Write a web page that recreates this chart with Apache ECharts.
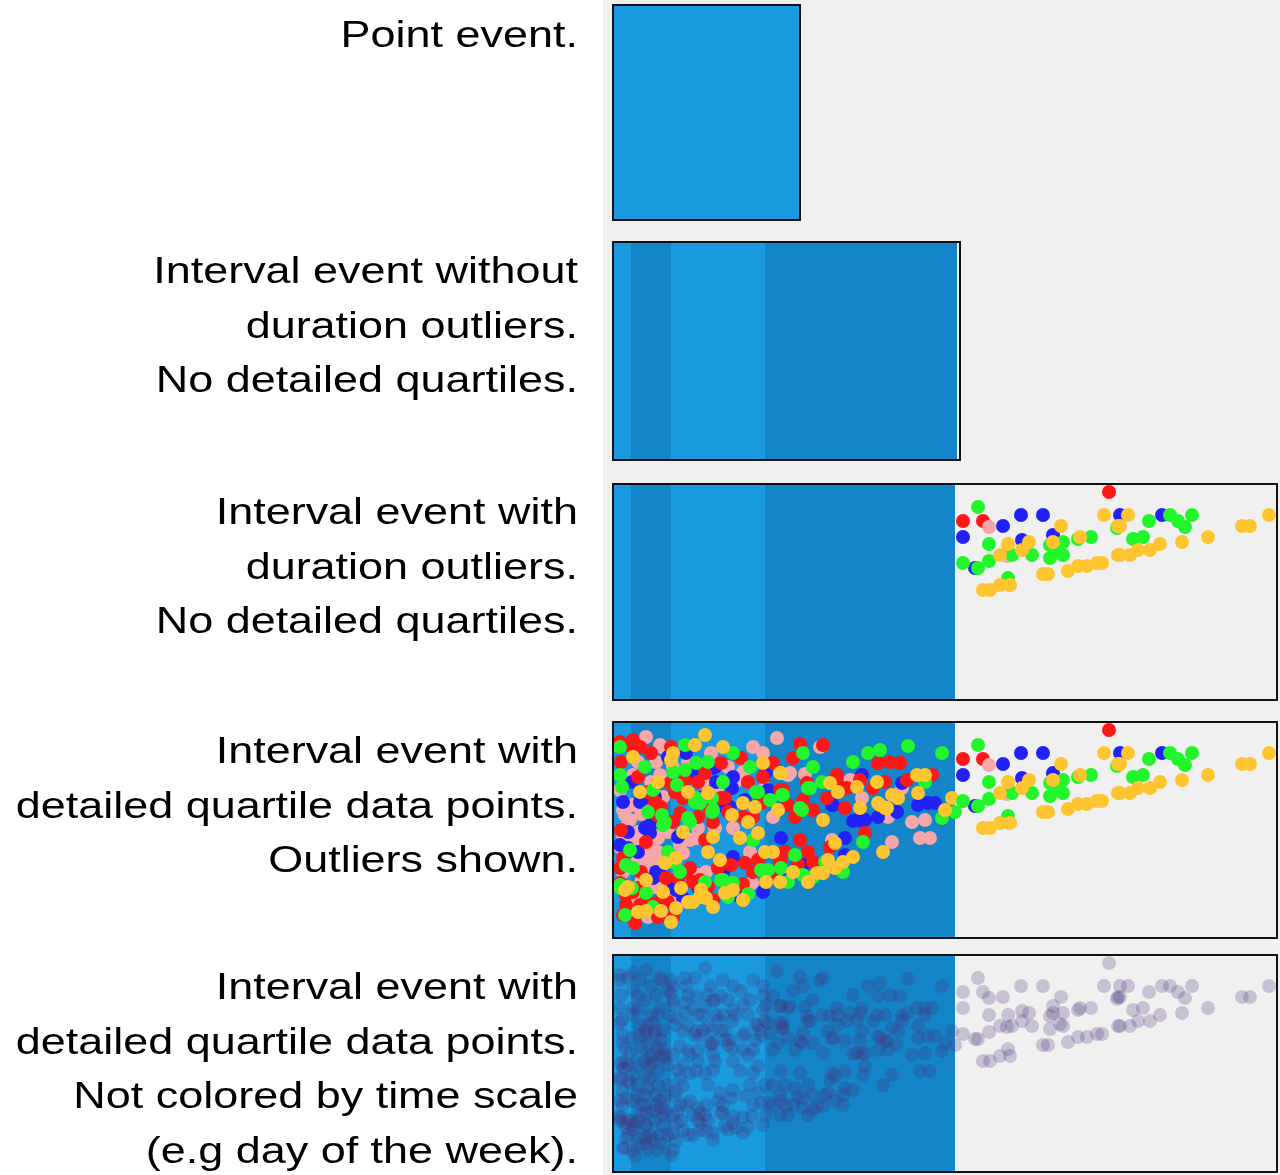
<!DOCTYPE html>
<html>
<head>
<meta charset="utf-8">
<script src="https://cdn.jsdelivr.net/npm/echarts@6/dist/echarts.min.js"></script>
<style>
  html, body { margin: 0; padding: 0; background: #fff; }
  #chart { width: 1280px; height: 1175px; }
</style>
</head>
<body>
<div id="chart"></div>
<script>
// row captions, one array of lines per panel
const captions = [
  ["Point event."],
  ["Interval event without", "duration outliers.", "No detailed quartiles."],
  ["Interval event with", "duration outliers.", "No detailed quartiles."],
  ["Interval event with", "detailed quartile data points.", "Outliers shown."],
  ["Interval event with", "detailed quartile data points.", "Not colored by time scale", "(e.g day of the week)."]
];

// panel extents (time units across, spread units down)
const panelWidth = [187, 347, 664, 664, 664];
const panelHeight = [215, 218, 216, 216, 217];

// quartile bands: [start, end, shade]  shade 0 = light, 1 = dark
const pointBands = [[0, 187, 0]];
const intervalBands = [[0, 18, 0], [18, 58, 1], [58, 152, 0], [152, 344, 1]];
const intervalBandsOut = [[0, 18, 0], [18, 58, 1], [58, 152, 0], [152, 342, 1]];

// duration outliers, by day colour
const outRed = [[496, 8], [350, 37], [370, 37]];
const outPink = [[376, 43], [394, 72]];
const outBlue = [[390, 42], [408, 31], [430, 31], [507, 31], [350, 53], [409, 56], [440, 51], [362, 84], [549, 31]];
const outGreen = [[365, 23], [376, 60], [419, 71], [437, 61], [450, 58], [447, 69], [450, 71], [437, 74], [465, 55],
  [478, 53], [504, 44], [350, 79], [365, 84], [376, 77], [399, 71], [395, 94], [536, 37], [557, 31], [565, 37],
  [572, 43], [579, 31], [520, 55], [530, 53]];
const outOrange = [[491, 31], [395, 60], [416, 58], [409, 66], [448, 42], [440, 58], [467, 53], [505, 42], [505, 71],
  [387, 71], [430, 90], [435, 90], [455, 87], [465, 82], [474, 82], [484, 79], [489, 79], [370, 106], [377, 106],
  [387, 101], [397, 101], [515, 31], [507, 42], [547, 60], [537, 66], [525, 66], [507, 71], [517, 71], [569, 58],
  [595, 53], [629, 42], [637, 42], [656, 31]];

// detailed quartile points, by day colour
const inPink = [[33, 15], [47, 23], [164, 16], [150, 31], [175, 53], [192, 52], [299, 100], [312, 98], [307, 116],
  [317, 116], [275, 95], [279, 120], [219, 118], [137, 130], [139, 161], [24, 140], [32, 150], [35, 133], [12, 106],
  [12, 113], [19, 83], [12, 93], [85, 106], [102, 106], [160, 95], [152, 66], [115, 45], [122, 60], [49, 25],
  [25, 40], [20, 53], [43, 40], [47, 53], [7, 68], [10, 88], [17, 98], [33, 80], [50, 75], [10, 113], [37, 123],
  [43, 140], [47, 146], [45, 116], [32, 140], [33, 170], [67, 123], [77, 118], [83, 116], [93, 150], [120, 106],
  [7, 125], [10, 150], [28, 160], [15, 180], [42, 165], [38, 100], [98, 31], [207, 25], [177, 51], [237, 58],
  [249, 76], [289, 66], [85, 153], [70, 131], [40, 108], [28, 92], [45, 130], [20, 120], [38, 60], [55, 110],
  [20, 175], [35, 195], [50, 160], [60, 178], [60, 45], [75, 40], [90, 60], [105, 65], [130, 50], [140, 25],
  [25, 110]];
const inRed = [[15, 23], [27, 25], [38, 31], [8, 40], [58, 25], [57, 61], [72, 58], [92, 51], [70, 76], [108, 76],
  [97, 88], [67, 91], [44, 93], [128, 36], [160, 41], [147, 76], [167, 68], [130, 95], [140, 95], [187, 22],
  [210, 23], [180, 36], [265, 41], [277, 40], [287, 41], [224, 53], [224, 60], [234, 66], [247, 58], [260, 66],
  [272, 60], [294, 58], [319, 53], [214, 76], [232, 86], [182, 95], [175, 83], [190, 78], [200, 88], [194, 61],
  [187, 118], [172, 130], [195, 130], [217, 125], [252, 111], [167, 140], [33, 120], [25, 166], [13, 183],
  [27, 183], [37, 181], [20, 196], [53, 156], [65, 156], [77, 146], [92, 118], [105, 146], [118, 143], [132, 141],
  [145, 138], [47, 180], [55, 180], [7, 146], [42, 80], [112, 76], [10, 193], [22, 201], [8, 108], [7, 20],
  [20, 18], [108, 41], [148, 81], [170, 68], [7, 161], [13, 173], [20, 170], [33, 183], [80, 160], [87, 158],
  [73, 150], [10, 136], [95, 165], [100, 178], [130, 162], [140, 150], [160, 150], [185, 142], [200, 140],
  [45, 195], [60, 195], [28, 150], [25, 55], [35, 70], [48, 85], [60, 100], [85, 95], [100, 100], [115, 90],
  [135, 60], [150, 55], [62, 70], [85, 60]];
const inBlue = [[249, 53], [289, 61], [305, 83], [315, 81], [322, 81], [265, 95], [284, 90], [240, 99], [249, 99],
  [232, 116], [232, 133], [168, 116], [173, 151], [70, 176], [63, 168], [43, 150], [48, 153], [37, 111], [32, 106],
  [7, 123], [15, 126], [120, 135], [123, 173], [73, 31], [102, 45], [80, 53], [103, 60], [32, 76], [42, 75],
  [27, 80], [117, 85], [37, 103], [47, 101], [153, 50], [219, 83], [155, 68], [119, 66], [19, 60], [112, 85],
  [100, 46], [120, 55], [132, 78], [60, 161], [40, 156], [220, 83], [244, 98], [252, 98], [85, 165], [110, 150],
  [150, 170], [190, 143], [25, 130], [15, 110], [55, 35], [90, 75], [10, 80], [65, 115]];
const inGreen = [[295, 24], [329, 31], [255, 31], [267, 28], [240, 40], [190, 31], [120, 31], [137, 45], [200, 45],
  [312, 60], [329, 96], [342, 90], [250, 120], [212, 140], [182, 133], [140, 118], [190, 153], [110, 158], [92, 160],
  [12, 193], [7, 163], [19, 166], [33, 171], [17, 128], [13, 143], [20, 146], [50, 103], [77, 100], [99, 90],
  [169, 73], [189, 88], [195, 66], [145, 70], [72, 48], [82, 80], [99, 76], [32, 45], [7, 53], [64, 63], [40, 68],
  [9, 65], [49, 93], [52, 100], [55, 130], [62, 141], [67, 150], [108, 158], [120, 161], [148, 148], [155, 148],
  [168, 146], [7, 25], [72, 23], [83, 41], [95, 40], [83, 76], [87, 81], [100, 88], [75, 96], [143, 70],
  [157, 78], [7, 166], [209, 60], [187, 86], [170, 73], [197, 66], [115, 175], [135, 172], [175, 160],
  [200, 155], [40, 185], [230, 150], [110, 60], [35, 90], [60, 50]];
const inOrange = [[92, 13], [82, 23], [60, 31], [58, 38], [27, 70], [95, 71], [150, 41], [168, 51], [130, 81],
  [165, 88], [244, 65], [264, 60], [304, 53], [312, 53], [305, 71], [279, 73], [285, 76], [339, 76], [332, 88],
  [265, 81], [272, 86], [270, 130], [222, 121], [230, 140], [222, 146], [204, 151], [210, 151], [145, 111],
  [127, 116], [95, 130], [107, 138], [52, 141], [33, 158], [15, 165], [50, 170], [68, 166], [88, 168], [80, 180],
  [93, 176], [63, 186], [48, 189], [33, 189], [112, 171], [120, 168], [153, 160], [167, 160], [160, 130],
  [152, 130], [119, 93], [210, 98], [75, 70], [142, 85], [63, 136], [75, 180], [87, 175], [12, 168], [217, 61],
  [225, 70], [247, 86], [267, 83], [274, 86], [167, 51], [100, 185], [130, 178], [180, 150], [195, 160],
  [240, 135], [215, 138], [58, 200], [25, 190], [45, 60], [70, 110], [100, 115], [135, 100], [20, 35], [110, 25]];

const dayColors = { red: "#ff1616", pink: "#f7a6a9", blue: "#2222f8", green: "#22f52c", orange: "#ffc531" };
const lightBlue = "#1a9ade";
const darkBlue = "#1585ca";

const chart = echarts.init(document.getElementById("chart"));

const panelLeft = 613;
const panelTop = [5, 242, 484, 722, 955];

const grids = [], xAxes = [], yAxes = [];
for (let i = 0; i < 5; i++) {
  grids.push({ left: panelLeft, top: panelTop[i], width: panelWidth[i], height: panelHeight[i], show: false });
  xAxes.push({ gridIndex: i, type: "value", min: 0, max: panelWidth[i], show: false });
  yAxes.push({ gridIndex: i, type: "value", min: 0, max: panelHeight[i], inverse: true, show: false });
}

function bandSeries(idx, bands) {
  return {
    type: "custom",
    xAxisIndex: idx,
    yAxisIndex: idx,
    z: 1,
    silent: true,
    data: bands,
    renderItem: function(params, api) {
      const cs = params.coordSys;
      const x0 = api.coord([api.value(0), 0])[0];
      const x1 = api.coord([api.value(1), 0])[0];
      return {
        type: "rect",
        shape: { x: x0, y: cs.y, width: x1 - x0, height: cs.height },
        style: { fill: api.value(2) ? darkBlue : lightBlue }
      };
    }
  };
}

function frameSeries(idx) {
  return {
    type: "custom",
    xAxisIndex: idx,
    yAxisIndex: idx,
    z: 5,
    silent: true,
    data: [[0, 0]],
    renderItem: function(params) {
      const cs = params.coordSys;
      return {
        type: "rect",
        shape: { x: cs.x, y: cs.y, width: cs.width, height: cs.height },
        style: { fill: "none", stroke: "#111", lineWidth: 2 }
      };
    }
  };
}

function dots(idx, data, color, opacity) {
  return {
    type: "scatter",
    xAxisIndex: idx,
    yAxisIndex: idx,
    z: 3,
    silent: true,
    symbolSize: 14,
    data: data,
    itemStyle: { color: color, opacity: opacity || 1 }
  };
}

const series = [
  bandSeries(0, pointBands),
  bandSeries(1, intervalBands),
  bandSeries(2, intervalBandsOut),
  bandSeries(3, intervalBandsOut),
  bandSeries(4, intervalBandsOut)
];

// panel 3: outliers only
series.push(dots(2, outRed, dayColors.red), dots(2, outBlue, dayColors.blue), dots(2, outPink, dayColors.pink),
  dots(2, outGreen, dayColors.green), dots(2, outOrange, dayColors.orange));

// panel 4: quartile points + outliers
series.push(dots(3, inPink, dayColors.pink), dots(3, inBlue, dayColors.blue), dots(3, inRed, dayColors.red),
  dots(3, inGreen, dayColors.green), dots(3, inOrange, dayColors.orange));
series.push(dots(3, outRed, dayColors.red), dots(3, outBlue, dayColors.blue), dots(3, outPink, dayColors.pink),
  dots(3, outGreen, dayColors.green), dots(3, outOrange, dayColors.orange));

// panel 5: all points, one colour
const allPoints = [].concat(inPink, inBlue, inRed, inGreen, inOrange, outRed, outBlue, outPink, outGreen, outOrange);
series.push(dots(4, allPoints, "#46307a", 0.24));

for (let i = 0; i < 5; i++) series.push(frameSeries(i));

// caption text (the original lettering is set wide)
const lineTop = [37, 273, 514, 753, 989];
const lineStep = 54.5;
const graphics = [{
  type: "rect",
  z: -10,
  shape: { x: 603, y: 0, width: 677, height: 1175 },
  style: { fill: "#f0f0f0" }
}];
captions.forEach((lines, i) => {
  lines.forEach((line, j) => {
    graphics.push({
      type: "text",
      x: 578,
      y: lineTop[i] + j * lineStep,
      scaleX: 1.215,
      style: {
        text: line,
        fill: "#000",
        font: '37px "Liberation Sans", Arial, sans-serif',
        textAlign: "right",
        textVerticalAlign: "middle"
      }
    });
  });
});

chart.setOption({
  animation: false,
  backgroundColor: "#fff",
  graphic: graphics,
  grid: grids,
  xAxis: xAxes,
  yAxis: yAxes,
  series: series
});
</script>
</body>
</html>
